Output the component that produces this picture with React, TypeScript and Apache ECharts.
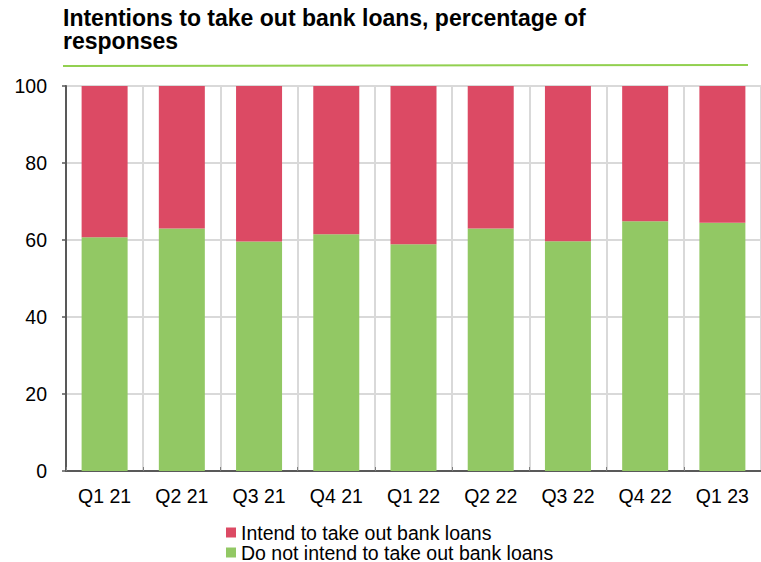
import React, { useEffect, useRef } from "react";
import * as echarts from "echarts";

const categories = ["Q1 21", "Q2 21", "Q3 21", "Q4 21", "Q1 22", "Q2 22", "Q3 22", "Q4 22", "Q1 23"];
const notIntend = [60.7, 63.0, 59.6, 61.5, 58.9, 63.0, 59.7, 64.9, 64.5];
const intend = [39.3, 37.0, 40.4, 38.5, 41.1, 37.0, 40.3, 35.1, 35.5];
const yTicks = [0, 20, 40, 60, 80, 100];

const titleLine1 = "Intentions to take out bank loans, percentage of";
const titleLine2 = "responses";
const nameIntend = "Intend to take out bank loans";
const nameNot = "Do not intend to take out bank loans";

const RED = "#DC4A64";
const GREEN = "#92C864";
const FONT = "Liberation Sans, Arial, sans-serif";

export default function App() {
  const ref = useRef<HTMLDivElement>(null);
  useEffect(() => {
    if (!ref.current) return;
    const chart = echarts.init(ref.current, undefined, { renderer: "svg" });
    const legendBase = {
      orient: "vertical",
      left: 226,
      padding: 0,
      itemWidth: 10,
      itemHeight: 10,
      icon: "rect",
      selectedMode: false,
      textStyle: { fontFamily: FONT, fontSize: 19.5, color: "#000", lineHeight: 19 },
    };
    const titleStyle = { fontFamily: FONT, fontSize: 23, fontWeight: "bold", color: "#000", lineHeight: 23 };
    chart.setOption({
      animation: false,
      backgroundColor: "#ffffff",
      textStyle: { fontFamily: FONT },
      title: [
        { text: titleLine1, left: 63, top: 6, padding: 0, textStyle: titleStyle },
        { text: titleLine2, left: 63, top: 29, padding: 0, textStyle: titleStyle },
      ],
      graphic: [
        {
          type: "line",
          shape: { x1: 63, y1: 66, x2: 748, y2: 65 },
          style: { stroke: "#92D050", lineWidth: 2 },
        },
      ],
      legend: [
        { ...legendBase, top: 522.5, data: [nameIntend] },
        { ...legendBase, top: 542.5, data: [nameNot] },
      ],
      grid: {
        left: 66,
        top: 86,
        right: -7,
        bottom: 91,
        show: true,
        borderColor: "#595959",
        borderWidth: 1.5,
        backgroundColor: "transparent",
      },
      xAxis: {
        type: "category",
        data: categories,
        boundaryGap: true,
        axisLine: { show: true, lineStyle: { color: "#595959", width: 2 } },
        axisTick: { show: true, inside: true, length: 4, lineStyle: { color: "#808080" } },
        splitLine: { show: true, lineStyle: { color: "#d9d9d9", width: 2 } },
        axisLabel: { fontFamily: FONT, fontSize: 19.5, color: "#000", margin: 15 },
      },
      yAxis: {
        type: "value",
        min: yTicks[0],
        max: yTicks[yTicks.length - 1],
        interval: 20,
        axisLine: { show: true, lineStyle: { color: "#595959", width: 2 } },
        axisTick: { show: true, inside: false, length: 4, lineStyle: { color: "#595959", width: 1.5 } },
        splitLine: { show: true, lineStyle: { color: "#d9d9d9", width: 2 } },
        axisLabel: { fontFamily: FONT, fontSize: 19.5, color: "#000", margin: 19 },
      },
      series: [
        {
          name: nameNot,
          type: "bar",
          stack: "total",
          barWidth: 46,
          data: notIntend,
          itemStyle: { color: GREEN },
        },
        {
          name: nameIntend,
          type: "bar",
          stack: "total",
          barWidth: 46,
          data: intend,
          itemStyle: { color: RED },
        },
      ],
    });
    return () => chart.dispose();
  }, []);
  return (
    <div
      ref={ref}
      style={{ position: "absolute", left: 0, top: 0, width: 761, height: 562 }}
    />
  );
}
